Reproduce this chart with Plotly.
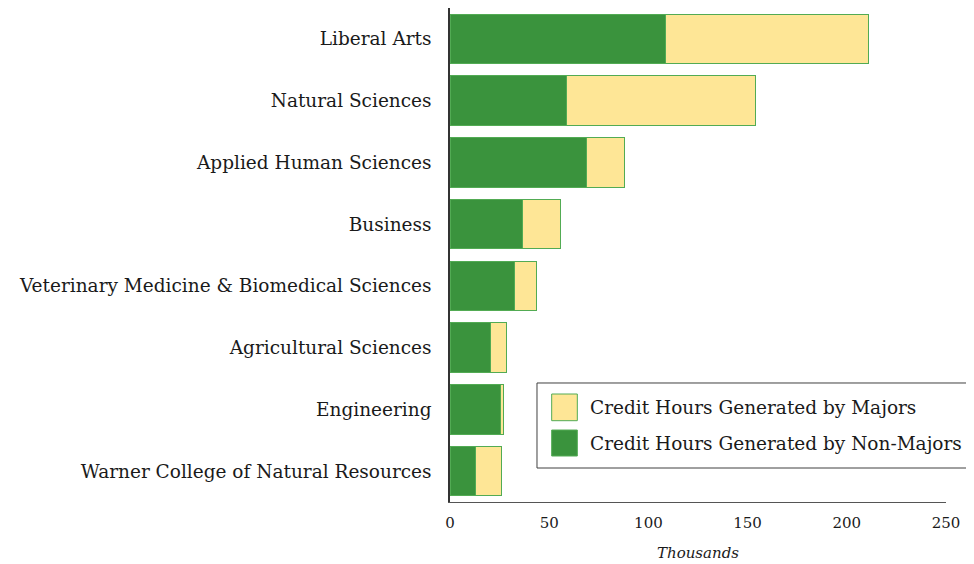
import plotly.graph_objects as go

colleges = [
    "Liberal Arts",
    "Natural Sciences",
    "Applied Human Sciences",
    "Business",
    "Veterinary Medicine & Biomedical Sciences",
    "Agricultural Sciences",
    "Engineering",
    "Warner College of Natural Resources",
]
non_majors = [108.7, 58.8, 68.9, 36.6, 32.6, 20.3, 25.2, 12.9]
majors = [102.0, 95.2, 19.3, 19.2, 11.1, 8.1, 1.7, 12.9]
x_ticks = [0, 50, 100, 150, 200, 250]
series_names = ["Credit Hours Generated by Majors", "Credit Hours Generated by Non-Majors"]

font_family = "DejaVu Serif, Liberation Serif, serif"
green = "#3a933d"
yellow = "#fee696"
edge = "#52ab54"

fig = go.Figure()
fig.add_trace(go.Bar(
    y=colleges, x=non_majors, orientation="h",
    name=series_names[1], showlegend=False,
    marker=dict(color=green, line=dict(color=edge, width=1)),
))
fig.add_trace(go.Bar(
    y=colleges, x=majors, orientation="h",
    name=series_names[0], showlegend=False,
    marker=dict(color=yellow, line=dict(color=edge, width=1)),
))

# custom legend with large swatches (paper coordinates)
shapes = [
    dict(type="rect", xref="paper", yref="paper", x0=0.1754, x1=1.07, y0=0.0688, y1=0.2409,
         line=dict(color="#404040", width=1), fillcolor="white", layer="above"),
    dict(type="rect", xref="paper", yref="paper", x0=0.2050, x1=0.2567, y0=0.1646, y1=0.2186,
         line=dict(color=edge, width=1), fillcolor=yellow, layer="above"),
    dict(type="rect", xref="paper", yref="paper", x0=0.2050, x1=0.2567, y0=0.0931, y1=0.1457,
         line=dict(color=edge, width=1), fillcolor=green, layer="above"),
]
annotations = [
    dict(xref="paper", yref="paper", x=0.2782, y=0.1923, xanchor="left", yanchor="middle",
         text=series_names[0], showarrow=False, font=dict(size=18.5, family=font_family, color="#1a1a1a")),
    dict(xref="paper", yref="paper", x=0.2782, y=0.1194, xanchor="left", yanchor="middle",
         text=series_names[1], showarrow=False, font=dict(size=18.5, family=font_family, color="#1a1a1a")),
]

fig.update_layout(
    barmode="stack",
    bargap=0.2,
    width=966, height=556,
    margin=dict(l=442, r=28, t=0, b=62),
    plot_bgcolor="white", paper_bgcolor="white",
    font=dict(family=font_family, size=18, color="#1a1a1a"),
    showlegend=False,
    shapes=shapes,
    annotations=annotations,
    xaxis=dict(
        range=[0, 250], tickvals=x_ticks,
        showgrid=False, zeroline=False, automargin=False,
        showline=True, linecolor="#555555", linewidth=1,
        ticks="", tickfont=dict(size=15), ticklabelstandoff=7,
        title=dict(text="<i>Thousands</i>", font=dict(size=15), standoff=16),
    ),
    yaxis=dict(
        autorange="reversed", automargin=False,
        showgrid=False, zeroline=False,
        showline=True, linecolor="#333333", linewidth=1.5,
        ticks="", ticklabelstandoff=13,
        tickfont=dict(size=18.5),
    ),
)

fig.write_html("out.html")
